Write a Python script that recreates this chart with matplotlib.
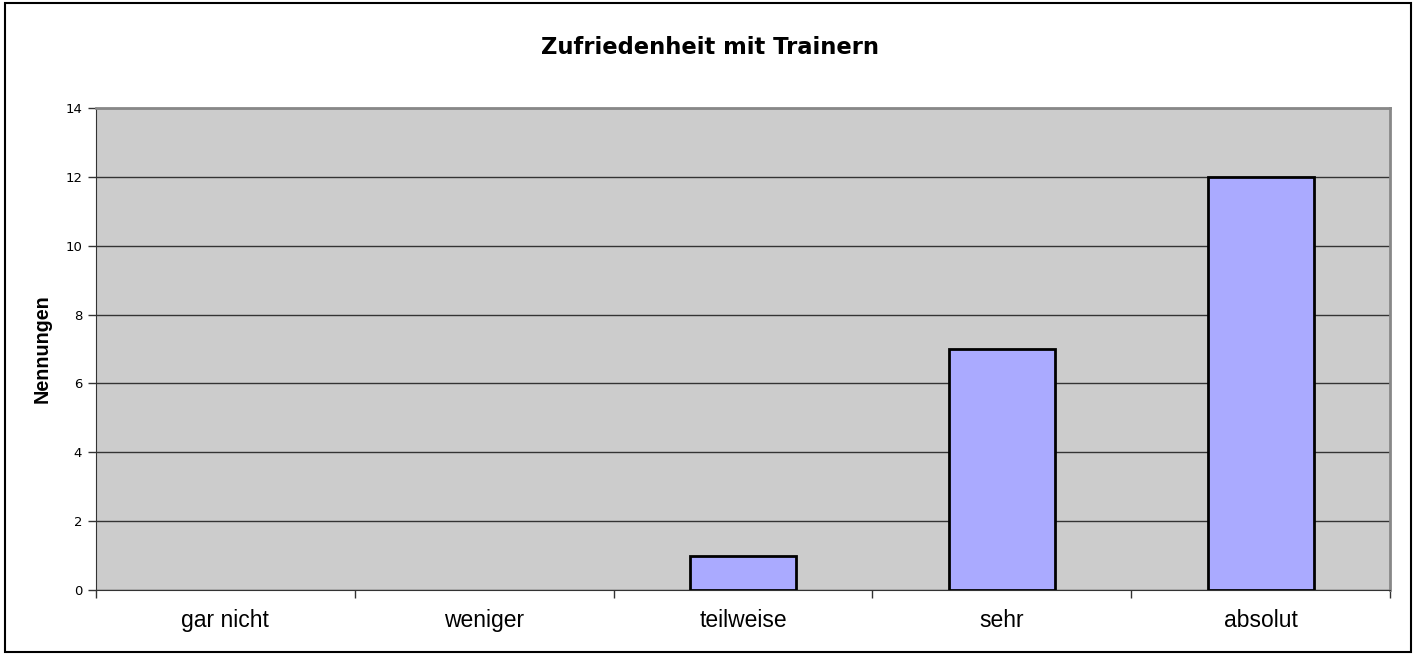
import matplotlib
matplotlib.use("Agg")
import matplotlib.pyplot as plt
from matplotlib.patches import Rectangle
import numpy as np

# Survey data
categories = ['gar nicht', 'weniger', 'teilweise', 'sehr', 'absolut']
counts = [0, 0, 1, 7, 12]
title = 'Zufriedenheit mit Trainern'
y_label = 'Nennungen'

fig = plt.figure(figsize=(14.19, 6.55), dpi=100)
ax = fig.add_axes([96 / 1419, 65 / 655, 1294 / 1419, 482 / 655])
ax.set_facecolor('#CCCCCC')

x = np.arange(len(categories))
# empty categories get no outline (Excel draws nothing there)
edges = ['black' if c > 0 else 'none' for c in counts]
ax.bar(x, counts, width=0.41, color='#AAAAFF', edgecolor=edges, linewidth=2, zorder=3)

ax.set_xlim(-0.5, len(categories) - 0.5)
ax.set_ylim(0, 14)
ax.set_yticks(np.arange(0, 15, 2))
ax.yaxis.grid(True, color='#333333', linewidth=1)
ax.set_axisbelow(True)

# category labels in the middle, ticks on the boundaries
ax.set_xticks(np.arange(-0.5, len(categories), 1))
ax.set_xticklabels([])
ax.set_xticks(x, minor=True)
ax.set_xticklabels(categories, minor=True, fontsize=16.5, family='Liberation Sans')
ax.tick_params(axis='x', which='minor', length=0, pad=14)
ax.tick_params(axis='x', which='major', length=6, width=1, color='#333333')
ax.tick_params(axis='y', length=6, width=1, color='#333333', labelsize=9.5, pad=4)
for lbl in ax.get_yticklabels():
    lbl.set_family('DejaVu Sans')

ax.spines['top'].set_color('#888888')
ax.spines['right'].set_color('#888888')
ax.spines['top'].set_linewidth(2)
ax.spines['right'].set_linewidth(2)
ax.spines['left'].set_color('#333333')
ax.spines['bottom'].set_color('#333333')

ax.set_ylabel(y_label, fontsize=14.2, fontweight='bold', family='Liberation Sans', labelpad=10)
fig.text(710 / 1419, 1 - 47 / 655, title, ha='center', va='center',
         fontsize=16.3, fontweight='bold', family='DejaVu Sans')

# outer chart border
fig.patches.append(Rectangle((5 / 1419, 3 / 655), 1406 / 1419, 649 / 655,
                             transform=fig.transFigure, fill=False,
                             edgecolor='black', linewidth=1.5))

fig.savefig('out.png', dpi=100)
